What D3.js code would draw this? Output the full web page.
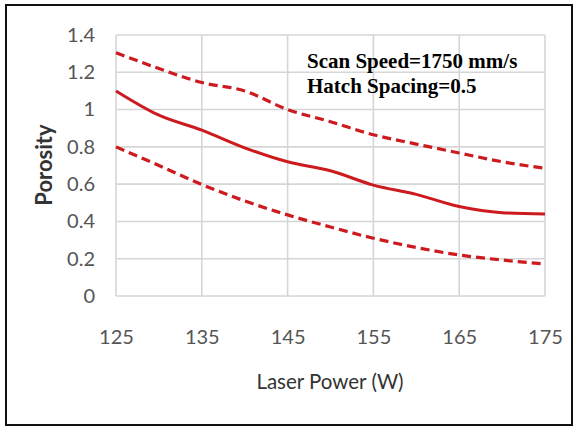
<!DOCTYPE html>
<html>
<head>
<meta charset="utf-8">
<script src="https://cdn.jsdelivr.net/npm/d3@7"></script>
<style>
  html, body { margin: 0; padding: 0; background: #fff; }
  svg { display: block; }
</style>
</head>
<body>
<svg id="chart" width="574" height="426"></svg>
<script>
const laserPower = [125, 130, 135, 140, 145, 150, 155, 160, 165, 170, 175];
const porosityMean  = [1.10, 0.97, 0.89, 0.795, 0.72, 0.672, 0.595, 0.545, 0.48, 0.447, 0.44];
const porosityUpper = [1.305, 1.22, 1.145, 1.10, 1.00, 0.935, 0.865, 0.815, 0.767, 0.72, 0.685];
const porosityLower = [0.80, 0.70, 0.598, 0.51, 0.435, 0.37, 0.31, 0.26, 0.22, 0.193, 0.172];
const xTicks = [125, 135, 145, 155, 165, 175];
const yTicks = [0, 0.2, 0.4, 0.6, 0.8, 1.0, 1.2, 1.4];
const yTickLabels = ["0", "0.2", "0.4", "0.6", "0.8", "1", "1.2", "1.4"];
const annotationLines = ["Scan Speed=1750 mm/s", "Hatch Spacing=0.5"];
const xTitle = "Laser Power (W)";
const yTitle = "Porosity";

(function () {
const svg = d3.select("#chart");
const pLeft = 116, pRight = 545, pTop = 35, pBottom = 296;

// outer frame
svg.append("rect").attr("x", 6).attr("y", 5).attr("width", 566).attr("height", 420)
  .attr("fill", "none").attr("stroke", "#111").attr("stroke-width", 2);

const x = d3.scaleLinear().domain([125, 175]).range([pLeft, pRight]);
const y = d3.scaleLinear().domain([0, 1.4]).range([pBottom, pTop]);

const grid = svg.append("g");
grid.selectAll("line.h").data(yTicks).join("line").attr("class", "h")
  .attr("x1", pLeft).attr("x2", pRight)
  .attr("y1", d => y(d)).attr("y2", d => y(d))
  .attr("stroke", "#d6d6d6").attr("stroke-width", 1.6);
grid.selectAll("line.v").data(xTicks).join("line").attr("class", "v")
  .attr("y1", pTop).attr("y2", pBottom)
  .attr("x1", d => x(d)).attr("x2", d => x(d))
  .attr("stroke", "#d6d6d6").attr("stroke-width", 1.6);

const font = "Lato, 'Open Sans', sans-serif";
const yAxis = d3.axisLeft(y).tickValues(yTicks).tickFormat((d, i) => yTickLabels[i]).tickSize(0).tickPadding(21);
const gy = svg.append("g").attr("transform", `translate(${pLeft},0)`).call(yAxis);
gy.select(".domain").remove();
gy.selectAll("text").attr("font-family", font).attr("font-size", 20).attr("fill", "#555");

const xAxis = d3.axisBottom(x).tickValues(xTicks).tickFormat(d3.format("d")).tickSize(0).tickPadding(34);
const gx = svg.append("g").attr("transform", `translate(0,${pBottom})`).call(xAxis);
gx.select(".domain").remove();
gx.selectAll("text").attr("font-family", font).attr("font-size", 20).attr("fill", "#555");

svg.append("text").attr("x", 330).attr("y", 389).attr("text-anchor", "middle")
  .attr("font-family", font).attr("font-size", 20.5).attr("fill", "#333")
  .text(xTitle);
svg.append("text").attr("transform", "translate(52,165) rotate(-90)").attr("text-anchor", "middle")
  .attr("font-family", font).attr("font-weight", "bold").attr("font-size", 22).attr("fill", "#333")
  .text(yTitle);

const red = "#cc1a1f";
const line = d3.line().x((d, i) => x(laserPower[i])).y(d => y(d)).curve(d3.curveMonotoneX);
svg.append("path").datum(porosityUpper).attr("d", line).attr("fill", "none")
  .attr("stroke", red).attr("stroke-width", 3.2).attr("stroke-dasharray", "9,5");
svg.append("path").datum(porosityLower).attr("d", line).attr("fill", "none")
  .attr("stroke", red).attr("stroke-width", 3.2).attr("stroke-dasharray", "9,5");
svg.append("path").datum(porosityMean).attr("d", line).attr("fill", "none")
  .attr("stroke", red).attr("stroke-width", 3);

const ann = svg.append("text").attr("font-family", "'Liberation Serif', 'Times New Roman', serif")
  .attr("font-weight", "bold").attr("font-size", 21).attr("fill", "#000");
ann.selectAll("tspan").data(annotationLines).join("tspan")
  .attr("x", 307).attr("y", (d, i) => 68 + i * 24.5).text(d => d);
})();
</script>
</body>
</html>
